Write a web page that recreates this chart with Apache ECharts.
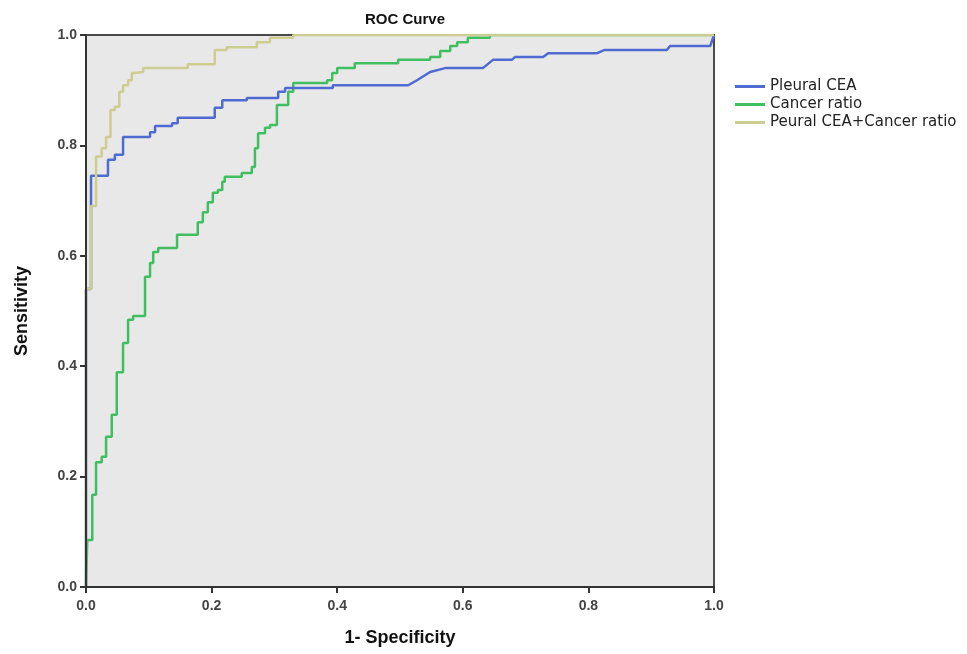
<!DOCTYPE html>
<html>
<head>
<meta charset="utf-8">
<script src="https://cdn.jsdelivr.net/npm/echarts@6/dist/echarts.min.js"></script>
<style>
  html, body { margin: 0; padding: 0; background: #fff; }
  #rocChart { width: 967px; height: 654px; }
</style>
</head>
<body>
<div id="rocChart"></div>
<script>
// ROC coordinates [1 - specificity, sensitivity]
const pleuralCEA = [
  [0, 0], [0, 0.54], [0.008, 0.54], [0.008, 0.745], [0.035, 0.745], [0.035, 0.774],
  [0.046, 0.774], [0.046, 0.783], [0.059, 0.783], [0.059, 0.815], [0.102, 0.815],
  [0.102, 0.824], [0.110, 0.824], [0.110, 0.835], [0.137, 0.835], [0.137, 0.84],
  [0.146, 0.84], [0.146, 0.85], [0.205, 0.85], [0.205, 0.868], [0.217, 0.868],
  [0.217, 0.882], [0.256, 0.882], [0.256, 0.886], [0.306, 0.886], [0.306, 0.897],
  [0.317, 0.897], [0.317, 0.904], [0.393, 0.904], [0.393, 0.909], [0.513, 0.909],
  [0.527, 0.918], [0.548, 0.933], [0.572, 0.940], [0.632, 0.940], [0.648, 0.955],
  [0.678, 0.955], [0.683, 0.960], [0.728, 0.960], [0.736, 0.967], [0.814, 0.967],
  [0.826, 0.973], [0.925, 0.973], [0.930, 0.980], [0.994, 0.980], [1, 1]
]
const cancerRatio = [
  [0, 0], [0.002, 0], [0.002, 0.085], [0.010, 0.085], [0.010, 0.167], [0.016, 0.167],
  [0.016, 0.226], [0.025, 0.226], [0.025, 0.236], [0.032, 0.236], [0.032, 0.272],
  [0.041, 0.272], [0.041, 0.312], [0.049, 0.312], [0.049, 0.389], [0.059, 0.389],
  [0.059, 0.442], [0.067, 0.442], [0.067, 0.484], [0.075, 0.484], [0.075, 0.491],
  [0.094, 0.491], [0.094, 0.562], [0.102, 0.562], [0.102, 0.587], [0.107, 0.587],
  [0.107, 0.607], [0.115, 0.607], [0.115, 0.614], [0.145, 0.614], [0.145, 0.638],
  [0.178, 0.638], [0.178, 0.661], [0.186, 0.661], [0.186, 0.679], [0.194, 0.679],
  [0.194, 0.697], [0.202, 0.697], [0.202, 0.714], [0.210, 0.714], [0.210, 0.719],
  [0.217, 0.719], [0.217, 0.734], [0.221, 0.734], [0.221, 0.743], [0.248, 0.743],
  [0.248, 0.75], [0.264, 0.75], [0.264, 0.761], [0.269, 0.761], [0.269, 0.795],
  [0.274, 0.795], [0.274, 0.822], [0.285, 0.822], [0.285, 0.832], [0.293, 0.832],
  [0.293, 0.837], [0.304, 0.837], [0.304, 0.873], [0.322, 0.873], [0.322, 0.897],
  [0.330, 0.897], [0.330, 0.913], [0.384, 0.913], [0.384, 0.918], [0.392, 0.918],
  [0.392, 0.931], [0.400, 0.931], [0.400, 0.940], [0.428, 0.940], [0.428, 0.949],
  [0.497, 0.949], [0.497, 0.955], [0.548, 0.955], [0.548, 0.96], [0.564, 0.96],
  [0.564, 0.971], [0.580, 0.971], [0.580, 0.98], [0.591, 0.98], [0.591, 0.987],
  [0.608, 0.987], [0.608, 0.995], [0.643, 0.995], [0.643, 1], [1, 1]
]
const combined = [
  [0, 0], [0, 0.54], [0.008, 0.54], [0.008, 0.69], [0.016, 0.69], [0.016, 0.78],
  [0.025, 0.78], [0.025, 0.795], [0.032, 0.795], [0.032, 0.815], [0.039, 0.815],
  [0.039, 0.864], [0.046, 0.864], [0.046, 0.870], [0.053, 0.870], [0.053, 0.897],
  [0.059, 0.897], [0.059, 0.909], [0.067, 0.909], [0.067, 0.918], [0.073, 0.918],
  [0.073, 0.931], [0.078, 0.931], [0.078, 0.933], [0.091, 0.933], [0.091, 0.940],
  [0.162, 0.940], [0.162, 0.947], [0.205, 0.947], [0.205, 0.973], [0.224, 0.973],
  [0.224, 0.978], [0.272, 0.978], [0.272, 0.987], [0.293, 0.987], [0.293, 0.995],
  [0.330, 0.995], [0.330, 1], [1, 1]
]
const seriesNames = ['Pleural CEA', 'Cancer ratio', 'Peural CEA+Cancer ratio']
const axisTicks = [0, 0.2, 0.4, 0.6, 0.8, 1.0]

const chart = echarts.init(document.getElementById('rocChart'))
const font = 'Liberation Sans, Arial, sans-serif'
const labelStyle = { color: '#444', fontWeight: 'bold', fontSize: 14, fontFamily: font }
const nameStyle = { color: '#111', fontWeight: 'bold', fontSize: 18, fontFamily: font }

function valueAxis(extra, margin) {
  return Object.assign({
    type: 'value',
    z: 10,
    min: axisTicks[0],
    max: axisTicks[axisTicks.length - 1],
    interval: 0.2,
    nameLocation: 'middle',
    nameTextStyle: nameStyle,
    axisLine: { show: true, onZero: false, lineStyle: { color: '#333', width: 2 } },
    axisTick: { show: true, length: 6, lineStyle: { color: '#333', width: 2 } },
    axisLabel: Object.assign({ margin: margin, formatter: v => v.toFixed(1) }, labelStyle),
    splitLine: { show: false }
  }, extra)
}

chart.setOption({
  animation: false,
  backgroundColor: '#fff',
  title: {
    text: 'ROC Curve',
    left: 400,
    textAlign: 'center',
    top: 7,
    textStyle: { color: '#111', fontWeight: 'bold', fontSize: 15, fontFamily: font }
  },
  legend: {
    orient: 'vertical',
    left: 730,
    top: 74,
    icon: 'rect',
    itemWidth: 30,
    itemHeight: 3,
    itemGap: 3,
    data: seriesNames,
    textStyle: { color: '#222', fontSize: 15, fontFamily: 'DejaVu Sans, sans-serif' }
  },
  grid: {
    left: 86, right: 253, top: 35, bottom: 67,
    show: true,
    backgroundColor: '#e8e8e8',
    borderColor: '#4a4a4a',
    borderWidth: 2
  },
  xAxis: valueAxis({ name: '1- Specificity', nameGap: 42 }, 12),
  yAxis: valueAxis({ name: 'Sensitivity', nameGap: 55 }, 9),
  series: [
    { name: seriesNames[0], type: 'line', data: pleuralCEA, symbol: 'none', lineStyle: { width: 2.5, color: '#4f6ad0' }, itemStyle: { color: '#4f6ad0' }, z: 3 },
    { name: seriesNames[1], type: 'line', data: cancerRatio, symbol: 'none', lineStyle: { width: 2.5, color: '#3fbf5f' }, itemStyle: { color: '#3fbf5f' }, z: 2 },
    { name: seriesNames[2], type: 'line', data: combined, symbol: 'none', lineStyle: { width: 2.5, color: '#cdcd92' }, itemStyle: { color: '#cdcd92' }, z: 4 }
  ]
})
</script>
</body>
</html>
